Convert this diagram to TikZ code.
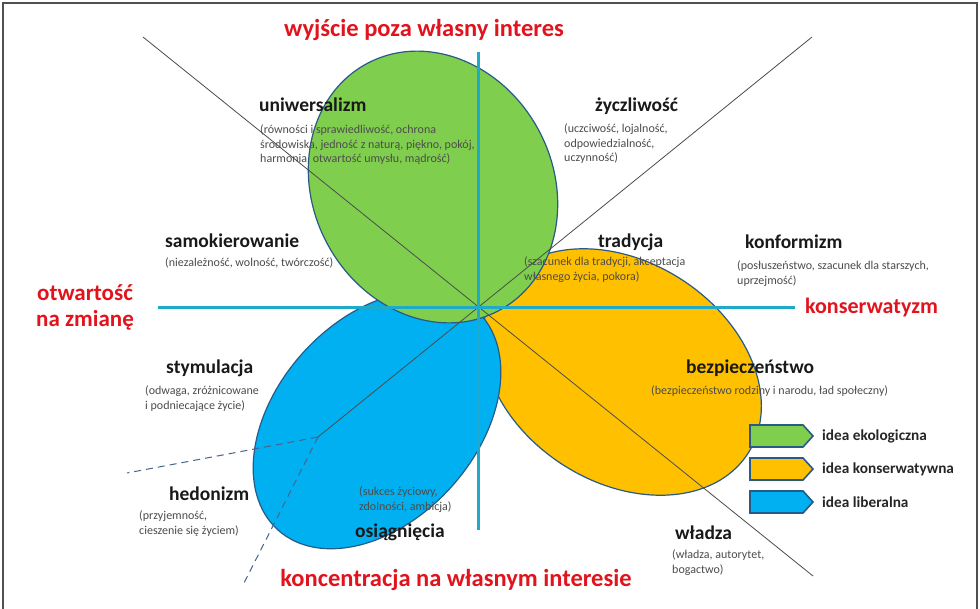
\documentclass[tikz,border=0pt]{standalone}
\usepackage{fontspec}
\setmainfont{Carlito}
\definecolor{gF}{RGB}{128,206,78}
\definecolor{oF}{RGB}{255,192,0}
\definecolor{bF}{RGB}{0,176,240}
\definecolor{edgeC}{RGB}{40,90,135}
\definecolor{axisC}{RGB}{30,170,200}
\definecolor{redC}{RGB}{225,20,30}
\definecolor{frameC}{RGB}{80,80,80}
\definecolor{dashC}{RGB}{70,100,140}
\begin{document}
\begin{tikzpicture}[x=1pt,y=-1pt,
  lab/.style={font=\fontsize{19.5}{22}\selectfont\bfseries, text=black!90, inner sep=0, anchor=west},
  sub/.style={font=\fontsize{12}{14.2}\selectfont, text=black!70, inner sep=0, anchor=north west, align=left},
  axlab/.style={font=\fontsize{24.5}{27}\selectfont\bfseries, text=redC, inner sep=0},
  leg/.style={font=\fontsize{15.3}{17}\selectfont\bfseries, text=black!85, inner sep=0, anchor=west},
  ell/.style={draw=edgeC, line width=1.2pt},
  legshape/.style={draw=edgeC, line width=1.6pt, line join=miter},
  axisline/.style={draw=axisC, line width=3pt},
  diag/.style={draw=black!70, line width=0.8pt},
  dashline/.style={draw=dashC, line width=1pt, dash pattern=on 7pt off 5pt},
  frameline/.style={draw=frameC, line width=2pt}]
\useasboundingbox (0,0) rectangle (980,608);
\fill[white] (0,0) rectangle (980,608);
\draw[frameline] (3,612) -- (3,3) -- (977,3) -- (977,612);

% ellipses
\filldraw[ell, fill=oF, rotate around={-33:(622,372)}] (622,372) ellipse[x radius=150pt, y radius=110pt];
\filldraw[ell, fill=bF, rotate around={48:(377,420)}] (377,420) ellipse[x radius=148pt, y radius=100pt];
\filldraw[ell, fill=gF, rotate around={28:(433,187)}] (433,187) ellipse[x radius=120pt, y radius=140pt];

% coordinates
\coordinate (dA1) at (143,37);
\coordinate (dA2) at (813,576);
\coordinate (dB1) at (812,37);
\coordinate (dB2) at (318,437);
\coordinate (dC1) at (127,473);
\coordinate (dC2) at (243,585);
\coordinate (vT) at (478,52);
\coordinate (vB) at (478,530);
\coordinate (hL) at (158,307);
\coordinate (hR) at (795,307);

\draw[diag] (dA1) -- (dA2);
\draw[diag] (dB1) -- (dB2);
\draw[dashline] (dB2) -- (dC1);
\draw[dashline] (dB2) -- (dC2);
\draw[axisline] (vT) -- (vB);
\draw[axisline] (hL) -- (hR);

% red axis labels
\node[axlab, anchor=center] (wyj) at (424,30) {wyjście poza własny interes};
\node[axlab, anchor=center] (konc) at (456,580) {koncentracja na własnym interesie};
\node[axlab, anchor=center, align=center, font=\fontsize{23}{26}\selectfont\bfseries] (otw) at (85,307) {otwartość\\na zmianę};
\node[axlab, anchor=west, font=\fontsize{22}{26}\selectfont\bfseries] (kons) at (805,308) {konserwatyzm};

% values
\node[lab] (uni) at (259,105) {uniwersalizm};
\node[sub] (unis) at (260,125) {(równości i sprawiedliwość, ochrona\\środowiska, jedność z naturą, piękno, pokój,\\harmonia, otwartość umysłu, mądrość)};
\node[lab] (zyc) at (595,106) {życzliwość};
\node[sub] (zycs) at (564,124) {(uczciwość, lojalność,\\odpowiedzialność,\\uczynność)};
\node[lab] (samo) at (165,241) {samokierowanie};
\node[sub] (samos) at (165,258) {(niezależność, wolność, twórczość)};
\node[lab] (trad) at (598,242) {tradycja};
\node[sub] (trads) at (524,257) {(szacunek dla tradycji, akceptacja\\własnego życia, pokora)};
\node[lab] (konf) at (745,242) {konformizm};
\node[sub] (konfs) at (737,261) {(posłuszeństwo, szacunek dla starszych,\\uprzejmość)};
\node[lab] (stym) at (166,368) {stymulacja};
\node[sub] (styms) at (145,386) {(odwaga, zróżnicowane\\i podniecające życie)};
\node[lab] (bez) at (686,368) {bezpieczeństwo};
\node[sub] (bezs) at (651,386) {(bezpieczeństwo rodziny i narodu, ład społeczny)};
\node[lab] (hed) at (169,494) {hedonizm};
\node[sub] (heds) at (139,511) {(przyjemność,\\cieszenie się życiem)};
\node[sub] (osis) at (359,487) {(sukces życiowy,\\zdolności, ambicja)};
\node[lab] (osi) at (355,532) {osiągnięcia};
\node[lab] (wla) at (675,533) {władza};
\node[sub] (wlas) at (672,550) {(władza, autorytet,\\bogactwo)};

% legend
\filldraw[legshape, fill=gF] (750,425) -- (803,425) -- (813,436) -- (803,447) -- (750,447) -- cycle;
\filldraw[legshape, fill=oF] (750,458) -- (803,458) -- (813,469) -- (803,480) -- (750,480) -- cycle;
\filldraw[legshape, fill=bF] (750,491) -- (803,491) -- (813,502) -- (803,513) -- (750,513) -- cycle;
\node[leg] (legG) at (822,436) {idea ekologiczna};
\node[leg] (legO) at (822,469) {idea konserwatywna};
\node[leg] (legB) at (822,502) {idea liberalna};
\end{tikzpicture}
\end{document}
